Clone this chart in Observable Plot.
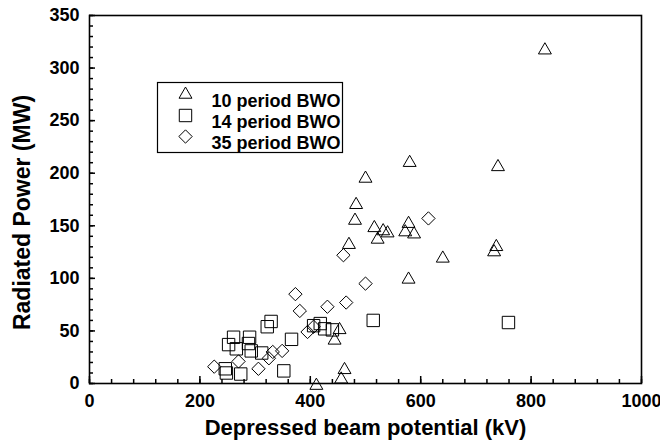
<!DOCTYPE html>
<html><head><meta charset="utf-8">
<script src="https://cdn.jsdelivr.net/npm/d3@7"></script>
<script src="https://cdn.jsdelivr.net/npm/@observablehq/plot@0.6"></script>
<style>body{margin:0;background:#fff}</style>
</head><body><div id="chart"></div>
<script>
// Series names (legend)
const seriesNames = ["10 period BWO", "14 period BWO", "35 period BWO"];
const seriesSymbols = ["triangle", "square", "diamond2"];

// [Depressed beam potential (kV), Radiated power (MW)]
const bwo10 = [
  [825, 317], [580, 210], [740, 206], [500, 195], [483, 170], [481, 155],
  [470, 132], [516, 148], [532, 145], [540, 143], [522, 137], [578, 152],
  [572, 144], [588, 142], [640, 119], [737, 130], [733, 125], [578, 99],
  [453, 51], [444, 41], [462, 13], [456, 4], [411, -2]
];
const bwo14 = [
  [261, 44], [252, 37], [266, 33], [290, 44], [288, 38], [293, 31], [312, 29],
  [246, 14], [248, 10], [274, 9], [322, 54], [329, 59], [352, 12], [366, 42],
  [406, 55], [418, 57], [426, 52], [440, 51], [514, 60], [759, 58]
];
const bwo35 = [
  [614, 157], [460, 122], [500, 95], [373, 85], [381, 69], [431, 73], [465, 77],
  [395, 49], [406, 54], [349, 31], [332, 30], [325, 24], [270, 21], [226, 16], [306, 14]
];

const xMajor = [0, 200, 400, 600, 800, 1000];
const xMinor = d3.range(0, 1001, 40);
const yMajor = [0, 50, 100, 150, 200, 250, 300, 350];
const yMinor = d3.range(0, 351, 10);

const xTitle = "Depressed beam potential (kV)";
const yTitle = "Radiated Power (MW)";

const font = "'Liberation Sans', Arial, Helvetica, sans-serif";
const symR = [4.8, 7, 6];
const seriesData = [bwo10, bwo14, bwo35];

const marks = [];
// ticks (inward)
marks.push(Plot.ruleX(xMinor, {x: d => d, y1: 0, y2: 0, insetBottom: 4, stroke: "black", strokeWidth: 1.5}));
marks.push(Plot.ruleX(xMajor, {x: d => d, y1: 0, y2: 0, insetBottom: 7, stroke: "black", strokeWidth: 1.5}));
marks.push(Plot.ruleY(yMinor, {y: d => d, x1: 0, x2: 0, insetLeft: 4, stroke: "black", strokeWidth: 1.5}));
marks.push(Plot.ruleY(yMajor, {y: d => d, x1: 0, x2: 0, insetLeft: 6, stroke: "black", strokeWidth: 1.5}));
marks.push(Plot.frame({stroke: "black", strokeWidth: 1.6}));
marks.push(Plot.axisX({ticks: xMajor, tickSize: 0, tickPadding: 11, label: null, fontSize: 18, fontWeight: "bold", tickFormat: d => String(d)}));
marks.push(Plot.axisY({ticks: yMajor, tickSize: 0, tickPadding: 10, label: null, fontSize: 18, fontWeight: "bold", tickFormat: d => String(d)}));
marks.push(Plot.text([xTitle], {text: d => d, frameAnchor: "bottom", dy: 51, textAnchor: "middle", fontSize: 22, fontWeight: "bold"}));
marks.push(Plot.text([yTitle], {text: d => d, frameAnchor: "left", dx: -67, dy: 13, textAnchor: "middle", rotate: -90, fontSize: 23, fontWeight: "bold"}));

// data
seriesData.forEach((data, i) => {
  marks.push(Plot.dot(data, {x: d => d[0], y: d => d[1], symbol: seriesSymbols[i], r: symR[i], stroke: "black", strokeWidth: 1, fill: "none"}));
});

// legend
marks.push(Plot.frame({stroke: "black", strokeWidth: 1.2, insetLeft: 68, insetRight: 299, insetTop: 67, insetBottom: 231}));
seriesNames.forEach((name, i) => {
  marks.push(Plot.dot([name], {frameAnchor: "top-left", dx: 96, dy: 79 + 21 * i, symbol: seriesSymbols[i], r: symR[i], stroke: "black", strokeWidth: 1, fill: "none"}));
  marks.push(Plot.text([name], {text: d => d, frameAnchor: "top-left", dx: 122, dy: 79 + 21 * i, textAnchor: "start", fontSize: 18, fontWeight: "bold"}));
});

const chart = Plot.plot({
  width: 660, height: 446,
  marginLeft: 89, marginRight: 19, marginTop: 15, marginBottom: 63,
  x: {domain: [0, 1000]},
  y: {domain: [0, 350]},
  style: {fontFamily: font, color: "black", background: "white", overflow: "visible"},
  marks
});
document.getElementById("chart").appendChild(chart);
</script>
</body></html>
